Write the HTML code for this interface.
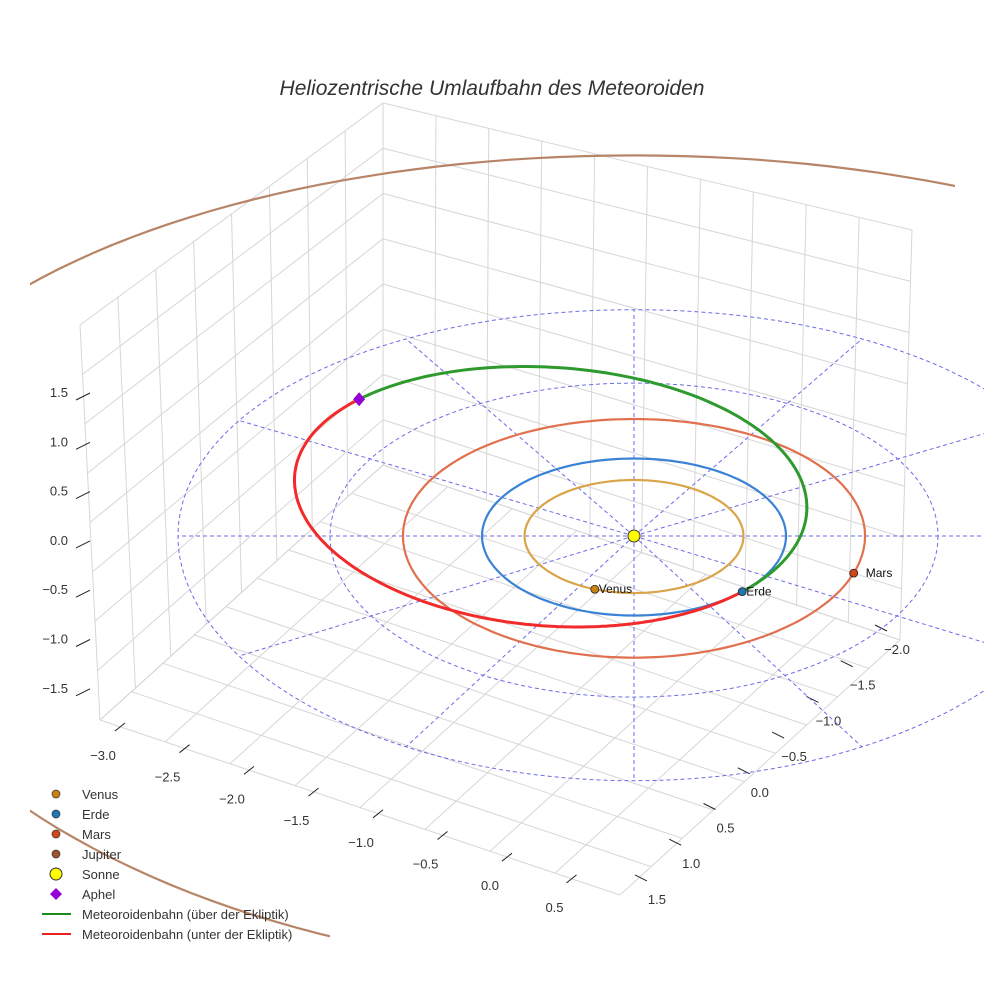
<!DOCTYPE html>
<html><head><meta charset="utf-8"><style>
body{margin:0;background:#fff}
svg{display:block;font-family:"Liberation Sans",sans-serif}
</style></head><body>
<svg id="chart" width="984" height="984" viewBox="0 0 984 984">
<defs><clipPath id="clipJ"><rect x="30" y="0" width="925" height="700"/><rect x="30" y="700" width="300" height="255"/></clipPath></defs>
<rect width="984" height="984" fill="#fff"/>
<text x="492" y="95" text-anchor="middle" font-size="21" font-style="italic" fill="#333">Heliozentrische Umlaufbahn des Meteoroiden</text>
<g id="box"></g>
<g id="ecl"></g>
<g id="orbits"></g>
<g id="marks"></g>
<g id="legend"></g>
</svg>
<script>
const planetNames=["Venus","Erde","Mars","Jupiter"];
const planetRadii=[0.72,1.0,1.52,5.2];
const planetAngles=[111,44.6,18,null];
const planetColors=["#d9a548","#3a82d6","#e0704e","#b88468"];
const dotColors=["#c8820f","#1f77b4","#d2461a","#a0522d"];
const meteorElements=[1.77,0.435,44.6]; // a, e, perihelion angle (deg)
const zTicks=["1.5","1.0","0.5","0.0","−0.5","−1.0","−1.5"];
const xTicks=["−3.0","−2.5","−2.0","−1.5","−1.0","−0.5","0.0","0.5"];
const yTicks=["−2.0","−1.5","−1.0","−0.5","0.0","0.5","1.0","1.5"];
const ringRadii=[1,2,3];

const NS="http://www.w3.org/2000/svg";
const cx=634,cy=536,kx=152,ky=78.5,pp=0.013;
function P(u,v){return [cx+kx*u, cy+ky*v*(1+pp*v)];}
function mk(tag,attrs,parent){const e=document.createElementNS(NS,tag);for(const k in attrs)e.setAttribute(k,attrs[k]);parent.appendChild(e);return e;}
function L(a,b,t){return [a[0]+(b[0]-a[0])*t,a[1]+(b[1]-a[1])*t];}

const box=document.getElementById('box');
const LT=[80,325],LB=[100,720],BT=[383,103],BB=[383,465],RT=[912,230],RB=[900,640],FB=[620,895];
function gl(a,b,name){const l=mk('line',{x1:a[0],y1:a[1],x2:b[0],y2:b[1],stroke:'#d6d6d6','stroke-width':1},box);}
for(let i=0;i<=8;i++){const t=i/8;gl(L(LT,BT,t),L(LB,BB,t),'left-wall-grid');gl(L(LT,LB,t),L(BT,BB,t),'left-wall-grid');}
for(let i=0;i<=10;i++){const t=i/10;gl(L(BT,RT,t),L(BB,RB,t),'right-wall-grid');}
for(let i=0;i<=8;i++){const t=i/8;gl(L(BT,BB,t),L(RT,RB,t),'right-wall-grid');}
for(let i=0;i<=8;i++){const t=i/8;gl(L(LB,FB,t),L(BB,RB,t),'floor-grid');}
for(let i=0;i<=9;i++){const t=i/9;gl(L(FB,RB,t),L(LB,BB,t),'floor-grid');}
zTicks.forEach((s,i)=>{const y=392+i*49.3;
 const tk=mk('line',{x1:76,y1:y+8,x2:90,y2:y+1,stroke:'#222','stroke-width':1},box);
 
 const t=mk('text',{x:68,y:y+5,'text-anchor':'end','font-size':13,fill:'#333'},box);t.textContent=s;
 });
xTicks.forEach((s,i)=>{const x=103+i*64.5,y=755+i*21.7;
 const tk=mk('line',{x1:x+12,y1:y-24,x2:x+22,y2:y-32,stroke:'#222'},box);
 
 const t=mk('text',{x:x,y:y+5,'text-anchor':'middle','font-size':13,fill:'#333'},box);t.textContent=s;
 });
yTicks.forEach((s,i)=>{const x=897-i*34.3,y=649+i*35.7;
 const tk=mk('line',{x1:x-22,y1:y-24,x2:x-10,y2:y-18,stroke:'#222'},box);
 
 const t=mk('text',{x:x,y:y+5,'text-anchor':'middle','font-size':13,fill:'#333'},box);t.textContent=s;
 });

const ecl=document.getElementById('ecl');
function ringPath(r,a0,a1){let d='';for(let i=0;i<=200;i++){const a=(a0+(a1-a0)*i/200)*Math.PI/180;const p=P(r*Math.cos(a),r*Math.sin(a));d+=(i?'L':'M')+p[0].toFixed(1)+','+p[1].toFixed(1);}return d;}
ringRadii.forEach(r=>{const e=mk('path',{d:ringPath(r,0,360),fill:'none',stroke:'#6b6be8','stroke-width':1,'stroke-dasharray':'4,3'},ecl);
 });
for(let k=0;k<12;k++){const a=k*30*Math.PI/180,R=ringRadii[ringRadii.length-1];const p=P(R*Math.cos(a),R*Math.sin(a));
 const e=mk('line',{x1:cx,y1:cy,x2:p[0],y2:p[1],stroke:'#6b6be8','stroke-width':1,'stroke-dasharray':'4,3'},ecl);
 }

const orb=document.getElementById('orbits');
planetNames.forEach((n,i)=>{const e=mk('path',{d:ringPath(planetRadii[i],0,360),fill:'none',stroke:planetColors[i],'stroke-width':2.2},orb);
 if(n==='Jupiter')e.setAttribute('clip-path','url(#clipJ)');
 });
const [ma,me,mw]=meteorElements;
function meteorPt(nu){const r=ma*(1-me*me)/(1+me*Math.cos(nu));const a=nu+mw*Math.PI/180;return P(r*Math.cos(a),r*Math.sin(a));}
function meteorPath(n0,n1){let d='';for(let i=0;i<=200;i++){const p=meteorPt(n0+(n1-n0)*i/200);d+=(i?'L':'M')+p[0].toFixed(1)+','+p[1].toFixed(1);}return d;}
const up=mk('path',{d:meteorPath(Math.PI,2*Math.PI),fill:'none',stroke:'#2e9a2e','stroke-width':3},orb);

const dn=mk('path',{d:meteorPath(0,Math.PI),fill:'none',stroke:'#f22a2a','stroke-width':3},orb);


const mg=document.getElementById('marks');
planetNames.forEach((n,i)=>{if(planetAngles[i]===null)return;const a=planetAngles[i]*Math.PI/180;const p=P(planetRadii[i]*Math.cos(a),planetRadii[i]*Math.sin(a));
 const c=mk('circle',{cx:p[0],cy:p[1],r:4,fill:dotColors[i],stroke:'#222','stroke-width':0.8},mg);
 
 const t=mk('text',{x:p[0]+(n==='Mars'?12:4),y:p[1]+4,'font-size':12,fill:'#111'},mg);t.textContent=n;
 });
const sun=mk('circle',{cx:cx,cy:cy,r:6,fill:'#ffff00',stroke:'#333','stroke-width':1},mg);

const ap=meteorPt(Math.PI);
const dia=mk('path',{d:`M${ap[0]},${ap[1]-7}L${ap[0]+6},${ap[1]}L${ap[0]},${ap[1]+7}L${ap[0]-6},${ap[1]}Z`,fill:'#9400d3'},mg);


const lg=document.getElementById('legend');
const legItems=[["Venus","dot","#c8820f"],["Erde","dot","#1f77b4"],["Mars","dot","#d2461a"],["Jupiter","dot","#a0522d"],["Sonne","sun","#ffff00"],["Aphel","dia","#9400d3"],["Meteoroidenbahn (über der Ekliptik)","line","#1a8a1a"],["Meteoroidenbahn (unter der Ekliptik)","line","#e82020"]];
legItems.forEach((it,i)=>{const y=794+i*20;let m;
 if(it[1]==='dot')m=mk('circle',{cx:56,cy:y,r:4,fill:it[2],stroke:'#333','stroke-width':0.7},lg);
 else if(it[1]==='sun')m=mk('circle',{cx:56,cy:y,r:6,fill:it[2],stroke:'#333','stroke-width':1},lg);
 else if(it[1]==='dia')m=mk('path',{d:`M56,${y-6}L62,${y}L56,${y+6}L50,${y}Z`,fill:it[2]},lg);
 else m=mk('line',{x1:42,y1:y,x2:71,y2:y,stroke:it[2],'stroke-width':2},lg);
 
 const t=mk('text',{x:82,y:y+5,'font-size':13,fill:'#333'},lg);t.textContent=it[0];
 });
</script>
</body></html>
